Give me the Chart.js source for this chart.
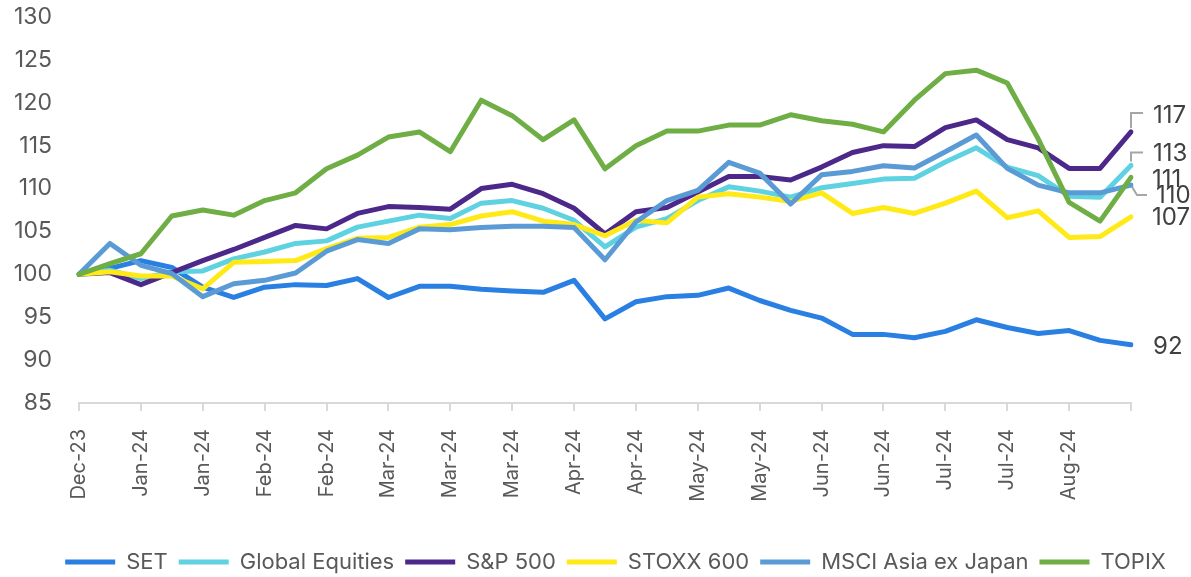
<!DOCTYPE html>
<html>
<head>
<meta charset="utf-8">
<script src="https://cdn.jsdelivr.net/npm/chart.js"></script>
<style>
  html, body { margin: 0; padding: 0; background: #fff; }
  #wrap { width: 1191px; height: 577px; }
</style>
</head>
<body>
<div id="wrap"><canvas id="chart" width="1191" height="577"></canvas></div>
<script>
// weekly points, 22-Dec-23 .. 16-Aug-24
const weeks = [
    'Dec-23', 'Dec-23', 'Jan-24', 'Jan-24', 'Jan-24', 'Jan-24', 'Feb-24', 'Feb-24', 'Feb-24',
    'Feb-24', 'Mar-24', 'Mar-24', 'Mar-24', 'Mar-24', 'Mar-24', 'Apr-24', 'Apr-24', 'Apr-24',
    'Apr-24', 'May-24', 'May-24', 'May-24', 'May-24', 'May-24', 'Jun-24', 'Jun-24', 'Jun-24',
    'Jun-24', 'Jul-24', 'Jul-24', 'Jul-24', 'Jul-24', 'Aug-24', 'Aug-24', 'Aug-24'
];

const setIdx = [100, 100.7, 101.6, 100.8, 98.5, 97.3, 98.5, 98.8, 98.7, 99.5, 97.3, 98.6, 98.6, 98.25, 98.05, 97.9, 99.3, 94.8,
    96.8, 97.4, 97.55, 98.4, 96.95, 95.8, 94.9, 93.0, 93.0, 92.6, 93.35, 94.7, 93.8, 93.1, 93.45, 92.3, 91.8];
const globalEq = [100, 100.5, 99.5, 100.3, 100.4, 101.8, 102.6, 103.6, 103.9, 105.5, 106.2, 106.9, 106.5, 108.3, 108.6, 107.7, 106.3, 103.2,
    105.5, 106.5, 108.6, 110.2, 109.7, 109.0, 110.1, 110.6, 111.1, 111.2, 113.1, 114.75, 112.5, 111.5, 109.1, 109.0, 112.7];
const sp500 = [100, 100.2, 98.8, 100.2, 101.6, 102.9, 104.3, 105.7, 105.3, 107.1, 107.9, 107.8, 107.6, 110.0, 110.5, 109.4, 107.7, 104.7,
    107.3, 107.8, 109.6, 111.4, 111.4, 111.0, 112.5, 114.2, 115.0, 114.9, 117.1, 118.0, 115.7, 114.75, 112.35, 112.35, 116.6];
const stoxx600 = [100, 100.3, 99.8, 99.8, 98.3, 101.4, 101.5, 101.6, 103.0, 104.2, 104.3, 105.5, 105.8, 106.8, 107.3, 106.2, 105.8, 104.5,
    106.3, 106.0, 109.0, 109.4, 109.0, 108.5, 109.5, 107.1, 107.8, 107.1, 108.3, 109.7, 106.6, 107.4, 104.3, 104.4, 106.7];
const msciAxj = [100, 103.6, 101.05, 100.1, 97.4, 98.9, 99.3, 100.15, 102.7, 104.05, 103.6, 105.3, 105.2, 105.45, 105.6, 105.6, 105.45, 101.7,
    106.1, 108.6, 109.8, 113.05, 111.8, 108.2, 111.6, 112.0, 112.65, 112.4, 114.3, 116.25, 112.35, 110.4, 109.5, 109.5, 110.4];
const topix = [100, 101.25, 102.4, 106.8, 107.5, 106.9, 108.6, 109.5, 112.3, 113.9, 116.0, 116.6, 114.3, 120.3, 118.5, 115.7, 118.0, 112.3,
    115.0, 116.7, 116.7, 117.4, 117.4, 118.6, 117.9, 117.5, 116.6, 120.3, 123.4, 123.8, 122.3, 115.8, 108.4, 106.2, 111.3];

const seriesNames = ['SET', 'Global Equities', 'S&P 500', 'STOXX 600', 'MSCI Asia ex Japan', 'TOPIX'];
const seriesData = [setIdx, globalEq, sp500, stoxx600, msciAxj, topix];
const seriesColors = ['#2a7fe2', '#5fd2e2', '#4b2889', '#ffea17', '#5b9bd5', '#6fae45'];

// end-of-line label placement (offset from last point) and leader elbows
const endLabelPos = [
    { dx: 22, dy: 2 },
    { dx: 22, dy: -12, leader: [[0, -4], [0, -13], [12, -13]] },
    { dx: 22, dy: -16, leader: [[0, -4], [0, -19], [12, -19]] },
    { dx: 21, dy: 1 },
    { dx: 25, dy: 11, leader: [[0, 0], [6, 10], [16, 10]] },
    { dx: 21, dy: 2 }
];

const FONT = 'Inter, Roboto, sans-serif';

const endLabels = {
    id: 'endLabels',
    beforeDatasetsDraw(chart) {
        const ctx = chart.ctx;
        ctx.save();
        ctx.strokeStyle = '#a6a6a6';
        ctx.lineWidth = 2;
        chart.data.datasets.forEach((ds, i) => {
            const pos = endLabelPos[i];
            if (!pos.leader) return;
            const meta = chart.getDatasetMeta(i);
            const pt = meta.data[meta.data.length - 1];
            ctx.beginPath();
            pos.leader.forEach((p, k) => {
                if (k === 0) ctx.moveTo(pt.x + p[0], pt.y + p[1]);
                else ctx.lineTo(pt.x + p[0], pt.y + p[1]);
            });
            ctx.stroke();
        });
        ctx.restore();
    },
    afterDatasetsDraw(chart) {
        const ctx = chart.ctx;
        ctx.save();
        ctx.font = '24px ' + FONT;
        ctx.fillStyle = '#404040';
        ctx.textAlign = 'left';
        ctx.textBaseline = 'middle';
        chart.data.datasets.forEach((ds, i) => {
            const meta = chart.getDatasetMeta(i);
            const pt = meta.data[meta.data.length - 1];
            const last = ds.data[ds.data.length - 1];
            const pos = endLabelPos[i];
            ctx.fillText(String(Math.round(last)), pt.x + pos.dx, pt.y + pos.dy);
        });
        ctx.restore();
    },
    afterLayout(chart) {
        // nudge the legend to where the original sits
        const lg = chart.legend;
        lg.top += 6; lg.bottom += 6;
        lg.left += 50; lg.right += 50;
    }
};

const datasets = seriesNames.map((name, i) => ({
    label: name,
    data: seriesData[i],
    borderColor: seriesColors[i],
    backgroundColor: seriesColors[i],
    borderWidth: 5,
    borderCapStyle: 'round',
    borderJoinStyle: 'round',
    pointRadius: 0,
    tension: 0,
    order: seriesNames.length - i
}));

new Chart(document.getElementById('chart'), {
    type: 'line',
    data: { labels: weeks, datasets: datasets },
    plugins: [endLabels],
    options: {
        responsive: false,
        animation: false,
        layout: { padding: { top: 17, right: 60, bottom: 0, left: 0 } },
        plugins: {
            tooltip: { enabled: false },
            legend: {
                position: 'bottom',
                labels: {
                    usePointStyle: true,
                    pointStyle: 'line',
                    pointStyleWidth: 50,
                    boxHeight: 5,
                    padding: 11,
                    color: '#595959',
                    font: { family: FONT, size: 22 },
                    sort: (a, b) => a.datasetIndex - b.datasetIndex
                }
            }
        },
        scales: {
            x: {
                grid: {
                    drawOnChartArea: false,
                    drawTicks: true,
                    tickLength: 8,
                    lineWidth: 2,
                    color: (c) => (c.index % 2 === 0 ? '#d9d9d9' : 'rgba(0,0,0,0)')
                },
                border: { color: '#d9d9d9', width: 2 },
                ticks: {
                    autoSkip: false,
                    maxRotation: 90,
                    minRotation: 90,
                    padding: 18,
                    color: '#595959',
                    font: { family: FONT, size: 20 },
                    callback: function(v, i) {
                        return (i % 2 === 0 && i < weeks.length - 1) ? weeks[i] : '';
                    }
                },
                afterFit: (s) => { s.height = 131; }
            },
            y: {
                min: 85,
                max: 130,
                grid: { display: false },
                border: { display: false },
                ticks: {
                    stepSize: 5,
                    padding: 19,
                    color: '#595959',
                    font: { family: FONT, size: 23 }
                },
                afterFit: (s) => {
                    s.width = 79;
                    s.paddingTop = 0;
                    s.paddingBottom = 0;
                }
            }
        }
    }
});
</script>
</body>
</html>
